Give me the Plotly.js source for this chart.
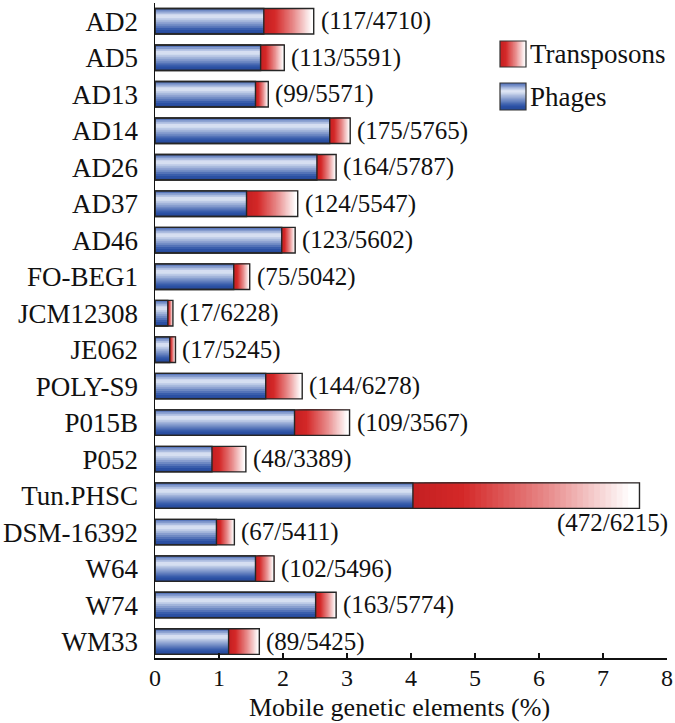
<!DOCTYPE html>
<html>
<head>
<meta charset="utf-8">
<script src="https://cdn.plot.ly/plotly-3.0.1.min.js"></script>
<style>html,body{margin:0;padding:0;background:#fff;}#chart{width:675px;height:723px;}</style>
</head>
<body>
<div id="chart"></div>
<script>
// ---- data ----
var strains = ["AD2","AD5","AD13","AD14","AD26","AD37","AD46","FO-BEG1","JCM12308","JE062","POLY-S9","P015B","P052","Tun.PHSC","DSM-16392","W64","W74","WM33"];
var phages = [1.70,1.65,1.57,2.73,2.53,1.43,1.98,1.23,0.20,0.23,1.73,2.18,0.89,4.03,0.96,1.57,2.51,1.15];
var totals = [2.48,2.02,1.77,3.05,2.83,2.23,2.19,1.48,0.28,0.32,2.30,3.04,1.42,7.57,1.24,1.86,2.83,1.63];
var countLabels = ["(117/4710)","(113/5591)","(99/5571)","(175/5765)","(164/5787)","(124/5547)","(123/5602)","(75/5042)","(17/6228)","(17/5245)","(144/6278)","(109/3567)","(48/3389)","(472/6215)","(67/5411)","(102/5496)","(163/5774)","(89/5425)"];
var legendNames = ["Transposons","Phages"];
var xTitle = "Mobile genetic elements (%)";

var transposons = totals.map(function(t,i){return t - phages[i];});

// ---- helpers ----
function lerp(a,b,t){return a+(b-a)*t;}
function interp(stops, t){
  for (var i=0;i<stops.length-1;i++){
    var a=stops[i], b=stops[i+1];
    if (t>=a[0] && t<=b[0]){
      var u=(t-a[0])/(b[0]-a[0]);
      return 'rgb('+Math.round(lerp(a[1][0],b[1][0],u))+','+Math.round(lerp(a[1][1],b[1][1],u))+','+Math.round(lerp(a[1][2],b[1][2],u))+')';
    }
  }
  var l=stops[stops.length-1][1];
  return 'rgb('+l[0]+','+l[1]+','+l[2]+')';
}
var blueStops = [[0,[70,104,180]],[0.3,[230,236,248]],[0.85,[44,82,166]],[1,[38,72,152]]];
var redStops = [[0,[196,32,34]],[0.22,[212,40,40]],[0.6,[232,140,140]],[0.96,[255,255,255]],[1,[255,255,255]]];

var BW = 0.7;
var traces = [];
// blue: layered bars, each covering from its stripe down to the bar bottom (no gaps)
var NB = 13;
for (var k=0;k<NB;k++){
  var t=(k+0.5)/NB;
  traces.push({type:'bar', orientation:'h', y:strains, x:phages, base:0,
    width:BW - k*BW/NB, offset:-BW/2 + k*BW/NB,
    marker:{color:interp(blueStops,t), line:{width:0}},
    showlegend:false, hoverinfo:'skip'});
}
// red: layered bars, each from its start to the total end (no gaps)
var NR = 40;
for (var m=0;m<NR;m++){
  var s=(m+0.5)/NR;
  traces.push({type:'bar', orientation:'h', y:strains,
    x:transposons.map(function(v){return v*(1 - m/NR);}),
    base:phages.map(function(p,i){return p + transposons[i]*m/NR;}),
    width:BW, offset:-BW/2,
    marker:{color:interp(redStops,s), line:{width:0}},
    showlegend:false, hoverinfo:'skip'});
}
// outlines
traces.push({type:'bar', orientation:'h', y:strains, x:phages, base:0, width:BW, offset:-BW/2,
  marker:{color:'rgba(0,0,0,0)', line:{color:'#262626', width:1.4}}, showlegend:false, hoverinfo:'skip'});
traces.push({type:'bar', orientation:'h', y:strains, x:totals, base:0, width:BW, offset:-BW/2,
  marker:{color:'rgba(0,0,0,0)', line:{color:'#262626', width:1.4}}, showlegend:false, hoverinfo:'skip'});

var FONT = "Liberation Serif, Times New Roman, serif";
var annotations = strains.map(function(s,i){
  if (s === "Tun.PHSC"){
    return {x:totals[i], y:s, xref:'x', yref:'y', text:countLabels[i], showarrow:false,
      xanchor:'right', yanchor:'middle', xshift:31, yshift:-27, font:{family:FONT,size:25,color:'#111'}};
  }
  return {x:totals[i], y:s, xref:'x', yref:'y', text:countLabels[i], showarrow:false,
    xanchor:'left', yanchor:'middle', xshift:5, font:{family:FONT,size:25,color:'#111'}};
});

// legend (manual) and axis title positions
var L=155, R=8, T=3, B=65, W=675, H=723;
function px2x(px){return (px-L)/(W-L-R);}
function py2y(py){return (H-B-py)/(H-T-B);}
var shapes=[];
var NS=20;
for (var i=0;i<NS;i++){
  var x0=500+26*i/NS;
  shapes.push({type:'rect', xref:'paper', yref:'paper', x0:px2x(x0), x1:px2x(526), y0:py2y(67), y1:py2y(41),
    fillcolor:interp(redStops,(i+0.5)/NS), line:{width:0}, layer:'above'});
}
for (var j=0;j<NS;j++){
  var y0=83+27*j/NS;
  shapes.push({type:'rect', xref:'paper', yref:'paper', x0:px2x(500), x1:px2x(526), y0:py2y(110), y1:py2y(y0),
    fillcolor:interp(blueStops,(j+0.5)/NS), line:{width:0}, layer:'above'});
}
shapes.push({type:'rect', xref:'paper', yref:'paper', x0:px2x(500), x1:px2x(526), y0:py2y(67), y1:py2y(41), line:{color:'#333',width:1.2}, layer:'above'});
shapes.push({type:'rect', xref:'paper', yref:'paper', x0:px2x(500), x1:px2x(526), y0:py2y(110), y1:py2y(83), line:{color:'#333',width:1.2}, layer:'above'});
annotations.push({xref:'paper', yref:'paper', x:px2x(528), y:py2y(54), text:legendNames[0], showarrow:false, xanchor:'left', yanchor:'middle', font:{family:FONT,size:27,color:'#111'}});
annotations.push({xref:'paper', yref:'paper', x:px2x(528), y:py2y(97), text:legendNames[1], showarrow:false, xanchor:'left', yanchor:'middle', font:{family:FONT,size:27,color:'#111'}});
annotations.push({xref:'paper', yref:'paper', x:px2x(399), y:py2y(708), text:xTitle, showarrow:false, xanchor:'center', yanchor:'middle', font:{family:FONT,size:26,color:'#111'}});

var layout = {
  width:W, height:H,
  margin:{l:L, r:R, t:T, b:B},
  paper_bgcolor:'#fff', plot_bgcolor:'#fff',
  barmode:'overlay',
  showlegend:false,
  font:{family:FONT, size:26, color:'#111'},
  xaxis:{range:[0,8], dtick:1, tick0:0, showgrid:false, zeroline:false,
    showline:true, linecolor:'#111', linewidth:1.5,
    ticks:'inside', ticklen:5, tickwidth:1.2, tickcolor:'#111',
    ticklabelstandoff:-2,
    tickfont:{family:FONT,size:24,color:'#111'}},
  yaxis:{type:'category', categoryorder:'array', categoryarray:strains, range:[17.45,-0.5],
    showgrid:false, zeroline:false, showline:true, linecolor:'#111', linewidth:1.5,
    ticks:'', ticklabelstandoff:10,
    tickfont:{family:FONT,size:27,color:'#111'}},
  annotations:annotations,
  shapes:shapes
};
Plotly.newPlot('chart', traces, layout, {displayModeBar:false, staticPlot:true});
</script>
</body>
</html>
